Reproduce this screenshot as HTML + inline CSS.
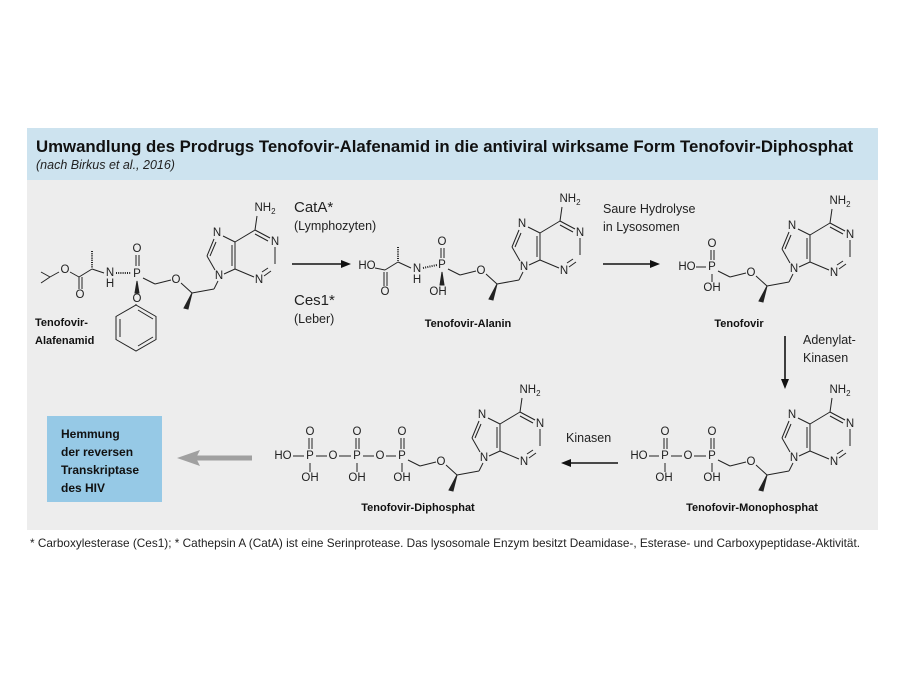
<!DOCTYPE html>
<html><head><meta charset="utf-8"><style>
body{margin:0;background:#fff;width:900px;height:675px;overflow:hidden;font-family:"Liberation Sans",sans-serif}
</style></head><body>
<svg width="900" height="675" xmlns="http://www.w3.org/2000/svg" font-family="Liberation Sans, sans-serif">
<rect x="27" y="128" width="851" height="52" fill="#cde3ef"/>
<rect x="27" y="180" width="851" height="350" fill="#ededed"/>
<text x="36" y="152" font-size="16.8" font-weight="bold" fill="#111">Umwandlung des Prodrugs Tenofovir-Alafenamid in die antiviral wirksame Form Tenofovir-Diphosphat</text>
<text x="36" y="169" font-size="12.5" font-style="italic" fill="#222">(nach Birkus et al., 2016)</text>
<text x="30" y="547" font-size="11.6" fill="#222" textLength="830" lengthAdjust="spacingAndGlyphs">* Carboxylesterase (Ces1);  * Cathepsin A (CatA) ist eine Serinprotease. Das lysosomale Enzym besitzt Deamidase-, Esterase- und Carboxypeptidase-Aktivität.</text>

<g stroke="#222" stroke-width="1" fill="none" font-size="11.5">
<g transform="translate(137,274)">
<line x1="6" y1="4" x2="18" y2="10"/><line x1="18" y1="10" x2="34" y2="6"/>
<line x1="44" y1="9" x2="55" y2="19"/><line x1="55" y1="19" x2="77" y2="15"/><line x1="77" y1="15" x2="81" y2="7"/>
<polygon points="55,19 47,34 51,35" fill="#222"/>
<line x1="78" y1="-4" x2="70" y2="-18"/><line x1="70" y1="-18" x2="77" y2="-35"/><line x1="73" y1="-18" x2="79" y2="-32"/>
<line x1="86" y1="-38" x2="98" y2="-32"/><line x1="98" y1="-32" x2="98" y2="-5"/><line x1="95" y1="-29" x2="95" y2="-8"/>
<line x1="98" y1="-5" x2="87" y2="0"/><line x1="98" y1="-32" x2="118" y2="-44"/>
<line x1="118" y1="-44" x2="133" y2="-36"/><line x1="118" y1="-40" x2="131" y2="-33"/>
<line x1="138" y1="-27" x2="138" y2="-10"/><line x1="134" y1="-3" x2="127" y2="2"/><line x1="131" y1="-6" x2="125" y2="-2"/>
<line x1="117" y1="3" x2="98" y2="-5"/><line x1="118" y1="-44" x2="120" y2="-58"/>
<g stroke="none" fill="#222" text-anchor="middle" dominant-baseline="central">
<text x="39" y="6">O</text><text x="82" y="2">N</text><text x="80" y="-41">N</text><text x="138" y="-32">N</text><text x="122" y="6">N</text><text x="128" y="-66">NH<tspan font-size="8" dy="3">2</tspan></text>
</g></g>
<g transform="translate(442,265)">
<line x1="6" y1="4" x2="18" y2="10"/><line x1="18" y1="10" x2="34" y2="6"/>
<line x1="44" y1="9" x2="55" y2="19"/><line x1="55" y1="19" x2="77" y2="15"/><line x1="77" y1="15" x2="81" y2="7"/>
<polygon points="55,19 47,34 51,35" fill="#222"/>
<line x1="78" y1="-4" x2="70" y2="-18"/><line x1="70" y1="-18" x2="77" y2="-35"/><line x1="73" y1="-18" x2="79" y2="-32"/>
<line x1="86" y1="-38" x2="98" y2="-32"/><line x1="98" y1="-32" x2="98" y2="-5"/><line x1="95" y1="-29" x2="95" y2="-8"/>
<line x1="98" y1="-5" x2="87" y2="0"/><line x1="98" y1="-32" x2="118" y2="-44"/>
<line x1="118" y1="-44" x2="133" y2="-36"/><line x1="118" y1="-40" x2="131" y2="-33"/>
<line x1="138" y1="-27" x2="138" y2="-10"/><line x1="134" y1="-3" x2="127" y2="2"/><line x1="131" y1="-6" x2="125" y2="-2"/>
<line x1="117" y1="3" x2="98" y2="-5"/><line x1="118" y1="-44" x2="120" y2="-58"/>
<g stroke="none" fill="#222" text-anchor="middle" dominant-baseline="central">
<text x="39" y="6">O</text><text x="82" y="2">N</text><text x="80" y="-41">N</text><text x="138" y="-32">N</text><text x="122" y="6">N</text><text x="128" y="-66">NH<tspan font-size="8" dy="3">2</tspan></text>
</g></g>
<g transform="translate(712,267)">
<line x1="6" y1="4" x2="18" y2="10"/><line x1="18" y1="10" x2="34" y2="6"/>
<line x1="44" y1="9" x2="55" y2="19"/><line x1="55" y1="19" x2="77" y2="15"/><line x1="77" y1="15" x2="81" y2="7"/>
<polygon points="55,19 47,34 51,35" fill="#222"/>
<line x1="78" y1="-4" x2="70" y2="-18"/><line x1="70" y1="-18" x2="77" y2="-35"/><line x1="73" y1="-18" x2="79" y2="-32"/>
<line x1="86" y1="-38" x2="98" y2="-32"/><line x1="98" y1="-32" x2="98" y2="-5"/><line x1="95" y1="-29" x2="95" y2="-8"/>
<line x1="98" y1="-5" x2="87" y2="0"/><line x1="98" y1="-32" x2="118" y2="-44"/>
<line x1="118" y1="-44" x2="133" y2="-36"/><line x1="118" y1="-40" x2="131" y2="-33"/>
<line x1="138" y1="-27" x2="138" y2="-10"/><line x1="134" y1="-3" x2="127" y2="2"/><line x1="131" y1="-6" x2="125" y2="-2"/>
<line x1="117" y1="3" x2="98" y2="-5"/><line x1="118" y1="-44" x2="120" y2="-58"/>
<g stroke="none" fill="#222" text-anchor="middle" dominant-baseline="central">
<text x="39" y="6">O</text><text x="82" y="2">N</text><text x="80" y="-41">N</text><text x="138" y="-32">N</text><text x="122" y="6">N</text><text x="128" y="-66">NH<tspan font-size="8" dy="3">2</tspan></text>
</g></g>
<g transform="translate(712,456)">
<line x1="6" y1="4" x2="18" y2="10"/><line x1="18" y1="10" x2="34" y2="6"/>
<line x1="44" y1="9" x2="55" y2="19"/><line x1="55" y1="19" x2="77" y2="15"/><line x1="77" y1="15" x2="81" y2="7"/>
<polygon points="55,19 47,34 51,35" fill="#222"/>
<line x1="78" y1="-4" x2="70" y2="-18"/><line x1="70" y1="-18" x2="77" y2="-35"/><line x1="73" y1="-18" x2="79" y2="-32"/>
<line x1="86" y1="-38" x2="98" y2="-32"/><line x1="98" y1="-32" x2="98" y2="-5"/><line x1="95" y1="-29" x2="95" y2="-8"/>
<line x1="98" y1="-5" x2="87" y2="0"/><line x1="98" y1="-32" x2="118" y2="-44"/>
<line x1="118" y1="-44" x2="133" y2="-36"/><line x1="118" y1="-40" x2="131" y2="-33"/>
<line x1="138" y1="-27" x2="138" y2="-10"/><line x1="134" y1="-3" x2="127" y2="2"/><line x1="131" y1="-6" x2="125" y2="-2"/>
<line x1="117" y1="3" x2="98" y2="-5"/><line x1="118" y1="-44" x2="120" y2="-58"/>
<g stroke="none" fill="#222" text-anchor="middle" dominant-baseline="central">
<text x="39" y="6">O</text><text x="82" y="2">N</text><text x="80" y="-41">N</text><text x="138" y="-32">N</text><text x="122" y="6">N</text><text x="128" y="-66">NH<tspan font-size="8" dy="3">2</tspan></text>
</g></g>
<g transform="translate(402,456)">
<line x1="6" y1="4" x2="18" y2="10"/><line x1="18" y1="10" x2="34" y2="6"/>
<line x1="44" y1="9" x2="55" y2="19"/><line x1="55" y1="19" x2="77" y2="15"/><line x1="77" y1="15" x2="81" y2="7"/>
<polygon points="55,19 47,34 51,35" fill="#222"/>
<line x1="78" y1="-4" x2="70" y2="-18"/><line x1="70" y1="-18" x2="77" y2="-35"/><line x1="73" y1="-18" x2="79" y2="-32"/>
<line x1="86" y1="-38" x2="98" y2="-32"/><line x1="98" y1="-32" x2="98" y2="-5"/><line x1="95" y1="-29" x2="95" y2="-8"/>
<line x1="98" y1="-5" x2="87" y2="0"/><line x1="98" y1="-32" x2="118" y2="-44"/>
<line x1="118" y1="-44" x2="133" y2="-36"/><line x1="118" y1="-40" x2="131" y2="-33"/>
<line x1="138" y1="-27" x2="138" y2="-10"/><line x1="134" y1="-3" x2="127" y2="2"/><line x1="131" y1="-6" x2="125" y2="-2"/>
<line x1="117" y1="3" x2="98" y2="-5"/><line x1="118" y1="-44" x2="120" y2="-58"/>
<g stroke="none" fill="#222" text-anchor="middle" dominant-baseline="central">
<text x="39" y="6">O</text><text x="82" y="2">N</text><text x="80" y="-41">N</text><text x="138" y="-32">N</text><text x="122" y="6">N</text><text x="128" y="-66">NH<tspan font-size="8" dy="3">2</tspan></text>
</g></g>

<line x1="41" y1="272" x2="50" y2="277"/><line x1="41" y1="283" x2="50" y2="277"/><line x1="50" y1="277" x2="59" y2="272"/>
<line x1="70" y1="272" x2="79" y2="277"/><line x1="79" y1="277" x2="92" y2="269"/>
<line x1="79" y1="277" x2="79" y2="289"/><line x1="82" y1="277" x2="82" y2="289"/>
<line x1="92" y1="269" x2="104" y2="273"/>
<line x1="92" y1="251" x2="92" y2="268" stroke-dasharray="1,1.2" stroke-width="2"/>
<line x1="116" y1="273" x2="131" y2="273" stroke-dasharray="1,1.2" stroke-width="2"/>
<line x1="136" y1="255" x2="136" y2="266"/><line x1="139" y1="255" x2="139" y2="266"/>
<polygon points="137,281 135,293 139,293" fill="#222"/>
<polygon points="136,305 156,316.5 156,339.5 136,351 116,339.5 116,316.5"/>
<line x1="120" y1="319" x2="120" y2="337"/><line x1="138" y1="310" x2="153" y2="319"/><line x1="138" y1="346" x2="153" y2="337"/>
<line x1="136" y1="304" x2="136" y2="305"/>
<line x1="375" y1="268" x2="385" y2="270"/><line x1="385" y1="270" x2="398" y2="262"/>
<line x1="384" y1="272" x2="384" y2="286"/><line x1="387" y1="272" x2="387" y2="286"/>
<line x1="398" y1="262" x2="411" y2="268"/>
<line x1="398" y1="247" x2="398" y2="261" stroke-dasharray="1,1.2" stroke-width="2"/>
<line x1="423" y1="268" x2="437" y2="265" stroke-dasharray="1,1.2" stroke-width="2"/>
<line x1="441" y1="248" x2="441" y2="258"/><line x1="444" y1="248" x2="444" y2="258"/>
<polygon points="442,272 440,285 444,285" fill="#222"/>
<line x1="696" y1="267" x2="706" y2="267"/><line x1="711" y1="250" x2="711" y2="260"/><line x1="714" y1="250" x2="714" y2="260"/><line x1="712" y1="274" x2="712" y2="282"/>
<line x1="649" y1="456" x2="659" y2="456"/><line x1="671" y1="456" x2="682" y2="456"/><line x1="694" y1="456" x2="706" y2="456"/>
<line x1="664" y1="438" x2="664" y2="449"/><line x1="667" y1="438" x2="667" y2="449"/><line x1="665" y1="463" x2="665" y2="472"/>
<line x1="711" y1="438" x2="711" y2="449"/><line x1="714" y1="438" x2="714" y2="449"/><line x1="712" y1="463" x2="712" y2="472"/>
<line x1="293" y1="456" x2="304" y2="456"/><line x1="316" y1="456" x2="327" y2="456"/><line x1="339" y1="456" x2="351" y2="456"/><line x1="363" y1="456" x2="374" y2="456"/><line x1="386" y1="456" x2="396" y2="456"/>
<line x1="309" y1="438" x2="309" y2="449"/><line x1="312" y1="438" x2="312" y2="449"/><line x1="310" y1="463" x2="310" y2="472"/>
<line x1="356" y1="438" x2="356" y2="449"/><line x1="359" y1="438" x2="359" y2="449"/><line x1="357" y1="463" x2="357" y2="472"/>
<line x1="401" y1="438" x2="401" y2="449"/><line x1="404" y1="438" x2="404" y2="449"/><line x1="402" y1="463" x2="402" y2="472"/>
</g>
<g fill="#222" font-size="11.5" text-anchor="middle" dominant-baseline="central">
<text x="65" y="270">O</text><text x="80" y="295">O</text><text x="110" y="273">N</text><text x="110" y="284">H</text><text x="137" y="274">P</text><text x="137" y="249">O</text><text x="137" y="299">O</text>
<text x="367" y="266">HO</text><text x="385" y="292">O</text><text x="417" y="269">N</text><text x="417" y="280">H</text><text x="442" y="265">P</text><text x="442" y="242">O</text><text x="438" y="292">OH</text>
<text x="687" y="267">HO</text><text x="712" y="267">P</text><text x="712" y="244">O</text><text x="712" y="288">OH</text>
<text x="639" y="456">HO</text><text x="665" y="456">P</text><text x="688" y="456">O</text><text x="712" y="456">P</text><text x="665" y="432">O</text><text x="712" y="432">O</text><text x="664" y="478">OH</text><text x="712" y="478">OH</text>
<text x="283" y="456">HO</text><text x="310" y="456">P</text><text x="333" y="456">O</text><text x="357" y="456">P</text><text x="380" y="456">O</text><text x="402" y="456">P</text>
<text x="310" y="432">O</text><text x="357" y="432">O</text><text x="402" y="432">O</text><text x="310" y="478">OH</text><text x="357" y="478">OH</text><text x="402" y="478">OH</text>
</g>
<g fill="#111" font-size="11" font-weight="bold">
<text x="35" y="326">Tenofovir-</text><text x="35" y="344">Alafenamid</text>
<text x="468" y="327" text-anchor="middle">Tenofovir-Alanin</text>
<text x="739" y="327" text-anchor="middle">Tenofovir</text>
<text x="752" y="511" text-anchor="middle">Tenofovir-Monophosphat</text>
<text x="418" y="511" text-anchor="middle">Tenofovir-Diphosphat</text>
</g>
<g fill="#222">
<text x="294" y="212" font-size="15">CatA*</text><text x="294" y="230" font-size="12.5">(Lymphozyten)</text>
<text x="294" y="305" font-size="15">Ces1*</text><text x="294" y="323" font-size="12.5">(Leber)</text>
<text x="603" y="213" font-size="12.5">Saure Hydrolyse</text><text x="603" y="231" font-size="12.5">in Lysosomen</text>
<text x="803" y="344" font-size="12.5">Adenylat-</text><text x="803" y="362" font-size="12.5">Kinasen</text>
<text x="566" y="442" font-size="12.5">Kinasen</text>
</g>
<g stroke="#111" stroke-width="1.6" fill="#111">
<line x1="292" y1="264" x2="343" y2="264"/><polygon points="351,264 341,260 341,268" stroke="none"/>
<line x1="603" y1="264" x2="652" y2="264"/><polygon points="660,264 650,260 650,268" stroke="none"/>
<line x1="785" y1="336" x2="785" y2="380"/><polygon points="785,389 781,379 789,379" stroke="none"/>
<line x1="618" y1="463" x2="570" y2="463"/><polygon points="561,463 571,459 571,467" stroke="none"/>
</g>
<rect x="47" y="416" width="115" height="86" fill="#96c9e6"/>
<g fill="#111" font-size="12" font-weight="bold">
<text x="61" y="438">Hemmung</text><text x="61" y="456">der reversen</text><text x="61" y="474">Transkriptase</text><text x="61" y="492">des HIV</text>
</g>
<line x1="195" y1="458" x2="252" y2="458" stroke="#a0a0a0" stroke-width="5"/>
<polygon points="177,458 200,450 196,458 200,466" fill="#a0a0a0"/>
</svg>
</body></html>
